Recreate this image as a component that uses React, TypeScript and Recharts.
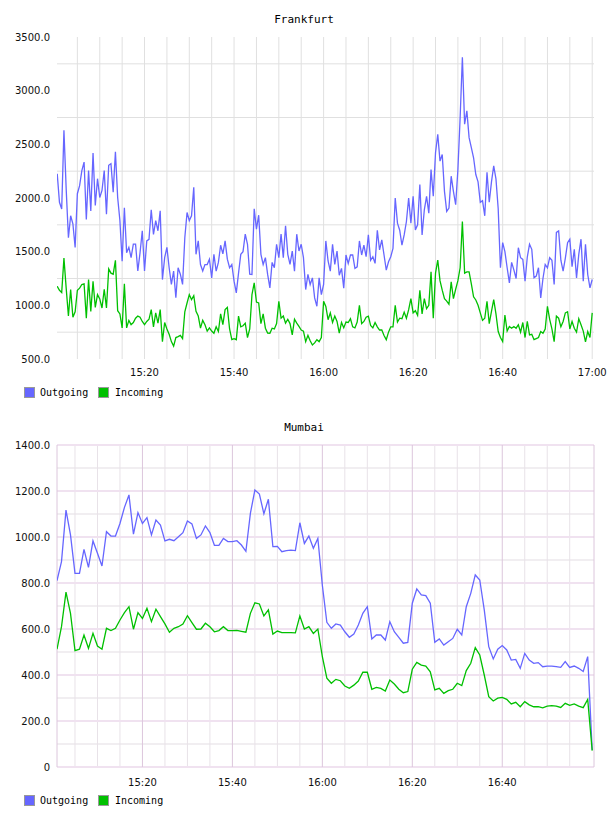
import { LineChart, Line, XAxis, YAxis, CartesianGrid } from "recharts";

const OUT_COLOR = "#6666ff";
const IN_COLOR = "#00c000";

// Frankfurt: one sample every 30 s, first one at 15:00:30
const frankfurtOutgoing = [
  2225, 1960, 1897, 2630, 2085, 1630, 1835, 1760, 1540, 2040,
  2115, 2255, 2335, 1800, 2255, 1880, 2420, 1930, 2180, 2005,
  2070, 2255, 1850, 2305, 2320, 2055, 2430, 2005, 1790, 1410,
  1910, 1490, 1540, 1445, 1570, 1570, 1320, 1490, 1695, 1320,
  1600, 1615, 1890, 1660, 1790, 1695, 1880, 1240, 1445, 1540,
  1350, 1195, 1320, 1070, 1350, 1290, 1195, 1630, 1865, 1790,
  1835, 2100, 1475, 1600, 1380, 1320, 1380, 1380, 1430, 1256,
  1475, 1319, 1400, 1560, 1480, 1600, 1430, 1350, 1381, 1225,
  1116, 1300, 1475, 1500, 1663, 1569, 1290, 1288, 1900, 1710,
  1840, 1475, 1381, 1444, 1288, 1163, 1400, 1350, 1569, 1444,
  1663, 1444, 1741, 1475, 1381, 1506, 1319, 1663, 1506, 1569,
  1444, 1147, 1288, 1194, 1256, 1069, 991, 1256, 1100, 1194,
  1600, 1413, 1319, 1569, 1381, 1506, 1281, 1344, 1160, 1469,
  1390, 1469, 1469, 1344, 1359, 1600, 1469, 1560, 1453, 1656,
  1420, 1453, 1391, 1700, 1516, 1609, 1469, 1328, 1406, 1453,
  1531, 2000, 1766, 1700, 1560, 1656, 1781, 2000, 1766, 2016,
  1703, 1750, 2125, 1656, 1890, 2016, 1859, 2266, 2016, 2422,
  2594, 2344, 2406, 2062, 1875, 1906, 2203, 2062, 1937, 2266,
  2750, 3312, 2687, 2812, 2562, 2469, 2375, 2219, 2150, 1960,
  1975, 1834, 2240, 1960, 2150, 2300, 2178, 1900, 1350, 1584,
  1500, 1350, 1209, 1400, 1330, 1250, 1537, 1444, 1428, 1225,
  1450, 1569, 1522, 1256, 1272, 1350, 1069, 1250, 1381, 1350,
  1444, 1420, 1194, 1680, 1694, 1420, 1319, 1440, 1584, 1616,
  1360, 1522, 1256, 1475, 1616, 1225, 1569, 1287, 1162, 1241,
];

const frankfurtIncoming = [
  1178, 1140, 1120, 1440, 1160, 900, 1147, 890, 940, 1140,
  1160, 1194, 1200, 880, 1241, 944, 1225, 980, 1100, 1060,
  975, 1150, 975, 1340, 1300, 1290, 1420, 950, 920, 790,
  1200, 790, 860, 820, 840, 880, 900, 890, 850, 820,
  850, 870, 960, 800, 930, 834, 960, 662, 840, 780,
  730, 662, 620, 700, 709, 720, 690, 940, 1022, 1100,
  1053, 1090, 944, 900, 787, 860, 819, 760, 790, 760,
  740, 800, 756, 920, 820, 960, 980, 780, 680, 690,
  680, 900, 800, 810, 834, 700, 780, 1100, 1209, 1030,
  1022, 830, 920, 787, 741, 740, 787, 780, 830, 1037,
  880, 900, 834, 870, 830, 725, 870, 834, 803, 770,
  760, 662, 720, 670, 631, 650, 680, 662, 700, 1037,
  990, 866, 930, 840, 900, 850, 740, 840, 790, 844,
  840, 875, 800, 790, 844, 1000, 830, 850, 890, 900,
  812, 790, 840, 800, 770, 770, 719, 680, 750, 800,
  800, 1000, 844, 880, 875, 937, 880, 960, 1062, 930,
  950, 906, 1141, 920, 1062, 969, 1000, 1312, 880, 1300,
  1422, 1230, 1141, 1062, 1040, 1010, 1219, 1062, 1150, 1230,
  1350, 1781, 1300, 1312, 1312, 1200, 1080, 1050, 1000, 930,
  860, 880, 1037, 830, 944, 1053, 920, 756, 700, 662,
  910, 760, 803, 787, 803, 787, 819, 750, 840, 700,
  850, 725, 730, 680, 690, 700, 756, 740, 780, 990,
  870, 780, 662, 900, 880, 800, 850, 930, 940, 780,
  850, 787, 750, 875, 819, 760, 660, 756, 700, 930,
];

// Mumbai: one sample per minute, first one at 15:01
const mumbaiOutgoing = [
  810, 893, 1117, 1009, 842, 842, 946, 868, 983, 929,
  874, 1023, 1004, 1004, 1059, 1129, 1183, 1012, 1106, 1059,
  1084, 1009, 1074, 1052, 983, 990, 984, 1001, 1019, 1070,
  1057, 994, 1009, 1048, 1019, 964, 964, 994, 980, 980,
  984, 965, 938, 1103, 1204, 1187, 1101, 1164, 958, 959,
  936, 941, 943, 941, 1062, 972, 1004, 951, 994, 790,
  629, 603, 622, 617, 588, 564, 578, 617, 668, 697,
  557, 574, 574, 552, 632, 588, 564, 538, 542, 712,
  774, 748, 745, 712, 542, 557, 530, 545, 559, 599,
  574, 697, 755, 835, 813, 683, 523, 470, 512, 528,
  509, 465, 468, 429, 494, 465, 451, 454, 436, 439,
  439, 436, 433, 458, 433, 439, 429, 415, 480, 74,
];

const mumbaiIncoming = [
  512, 610, 760, 668, 506, 512, 574, 516, 581, 526,
  512, 603, 593, 603, 639, 671, 697, 599, 671, 646,
  690, 632, 686, 654, 622, 586, 603, 610, 622, 658,
  628, 599, 600, 625, 610, 588, 593, 610, 593, 593,
  594, 590, 586, 668, 714, 709, 657, 683, 578, 591,
  584, 584, 584, 583, 657, 600, 610, 581, 600, 480,
  386, 364, 381, 375, 352, 342, 356, 374, 412, 412,
  338, 346, 342, 330, 378, 361, 338, 323, 328, 425,
  455, 443, 439, 414, 335, 342, 320, 332, 338, 364,
  354, 419, 451, 519, 487, 400, 306, 287, 299, 303,
  294, 274, 281, 262, 284, 270, 262, 262, 257, 265,
  267, 265, 259, 277, 268, 274, 265, 258, 294, 71,
];

// x values are minutes after 15:00
const frankfurtTimeTicks = [20, 40, 60, 80, 100, 120];
const mumbaiTimeTicks = [20, 40, 60, 80, 100];
const frankfurtValueTicks = [500, 1000, 1500, 2000, 2500, 3000, 3500];
const mumbaiValueTicks = [0, 200, 400, 600, 800, 1000, 1200, 1400];

const frankfurtRows = frankfurtOutgoing.map((v, i) => ({
  t: (i + 1) * 0.5,
  out: v,
  inc: frankfurtIncoming[i],
}));
const mumbaiRows = mumbaiOutgoing.map((v, i) => ({
  t: i + 1,
  out: v,
  inc: mumbaiIncoming[i],
}));

const fmtTime = (m: number) => {
  const h = 15 + Math.floor(m / 60);
  const mm = Math.round(m % 60);
  return `${h}:${String(mm).padStart(2, "0")}`;
};

const every5 = Array.from({ length: 24 }, (_, i) => (i + 1) * 5);
const tickFont = { fontSize: 10, fontFamily: "DejaVu Sans", fill: "#111" };

const Legend = () => (
  <div
    style={{
      position: "absolute",
      top: 387,
      left: 24,
      display: "flex",
      alignItems: "center",
      font: "10px 'DejaVu Sans Mono'",
      color: "#000",
    }}
  >
    <span style={{ width: 9, height: 9, background: OUT_COLOR, border: "1px solid #999" }} />
    <span style={{ marginLeft: 5, width: 58 }}>Outgoing</span>
    <span style={{ width: 9, height: 9, background: IN_COLOR, border: "1px solid #999" }} />
    <span style={{ marginLeft: 6 }}>Incoming</span>
  </div>
);

interface PanelProps {
  title: string;
  top: number;
  children: React.ReactNode;
}

const Panel = ({ title, top, children }: PanelProps) => (
  <div style={{ position: "absolute", left: 0, top, width: 608, height: 408 }}>
    <div
      style={{
        position: "absolute",
        top: 13,
        left: 0,
        width: 608,
        textAlign: "center",
        font: "11px 'DejaVu Sans Mono'",
        lineHeight: "14px",
        color: "#000",
      }}
    >
      {title}
    </div>
    {children}
    <Legend />
  </div>
);

const margin = { top: 37, right: 14, bottom: 0, left: 7 };

export default function App() {
  return (
    <div style={{ position: "absolute", left: 0, top: 0, width: 608, height: 816, background: "#fff" }}>
      <Panel title="Frankfurt" top={0}>
        <LineChart width={608} height={389} data={frankfurtRows} margin={margin}>
          <CartesianGrid
            stroke="#e0e0e0"
            horizontalValues={[750, 1250, 1750, 2250, 2750, 3250]}
            verticalValues={every5}
          />
          <XAxis
            type="number"
            dataKey="t"
            domain={[0.45, 120.4]}
            ticks={frankfurtTimeTicks}
            interval={0}
            tickFormatter={fmtTime}
            height={30}
            tickLine={false}
            axisLine={false}
            tickSize={8}
            tickMargin={2}
            tick={tickFont}
            allowDataOverflow
          />
          <YAxis
            domain={[500, 3500]}
            ticks={frankfurtValueTicks}
            interval={0}
            tickFormatter={(v: number) => v.toFixed(1)}
            width={50}
            tickLine={false}
            axisLine={false}
            tickSize={5}
            tickMargin={2}
            tick={tickFont}
            allowDataOverflow
          />
          <Line type="linear" dataKey="out" stroke={OUT_COLOR} strokeWidth={1.3} dot={false} isAnimationActive={false} />
          <Line type="linear" dataKey="inc" stroke={IN_COLOR} strokeWidth={1.3} dot={false} isAnimationActive={false} />
        </LineChart>
      </Panel>

      <Panel title="Mumbai" top={408}>
        <LineChart width={608} height={389} data={mumbaiRows} margin={margin}>
          {/* minor grid */}
          <CartesianGrid
            stroke="#f1eef1"
            strokeWidth={2}
            vertical={false}
            horizontalValues={[100, 300, 500, 700, 900, 1100, 1300]}
          />
          <CartesianGrid
            stroke="#e8e2e8"
            horizontal={false}
            verticalValues={every5.filter((m) => m % 20 !== 0 && m < 120)}
          />
          {/* major grid and frame */}
          <CartesianGrid
            stroke="#f0e2f0"
            strokeWidth={2}
            vertical={false}
            horizontalValues={mumbaiValueTicks}
          />
          <CartesianGrid
            stroke="#dcc6dc"
            horizontal={false}
            verticalValues={[1, 20, 40, 60, 80, 100, 120.4]}
          />
          <XAxis
            type="number"
            dataKey="t"
            domain={[1, 120.4]}
            ticks={mumbaiTimeTicks}
            interval={0}
            tickFormatter={fmtTime}
            height={30}
            tickLine={false}
            axisLine={false}
            tickSize={9}
            tickMargin={3}
            tick={tickFont}
            allowDataOverflow
          />
          <YAxis
            domain={[0, 1400]}
            ticks={mumbaiValueTicks}
            interval={0}
            tickFormatter={(v: number) => (v === 0 ? "0" : v.toFixed(1))}
            width={50}
            tickLine={false}
            axisLine={false}
            tickSize={5}
            tickMargin={2}
            tick={tickFont}
            allowDataOverflow
          />
          <Line type="linear" dataKey="out" stroke={OUT_COLOR} strokeWidth={1.3} dot={false} isAnimationActive={false} />
          <Line type="linear" dataKey="inc" stroke={IN_COLOR} strokeWidth={1.3} dot={false} isAnimationActive={false} />
        </LineChart>
      </Panel>
    </div>
  );
}
